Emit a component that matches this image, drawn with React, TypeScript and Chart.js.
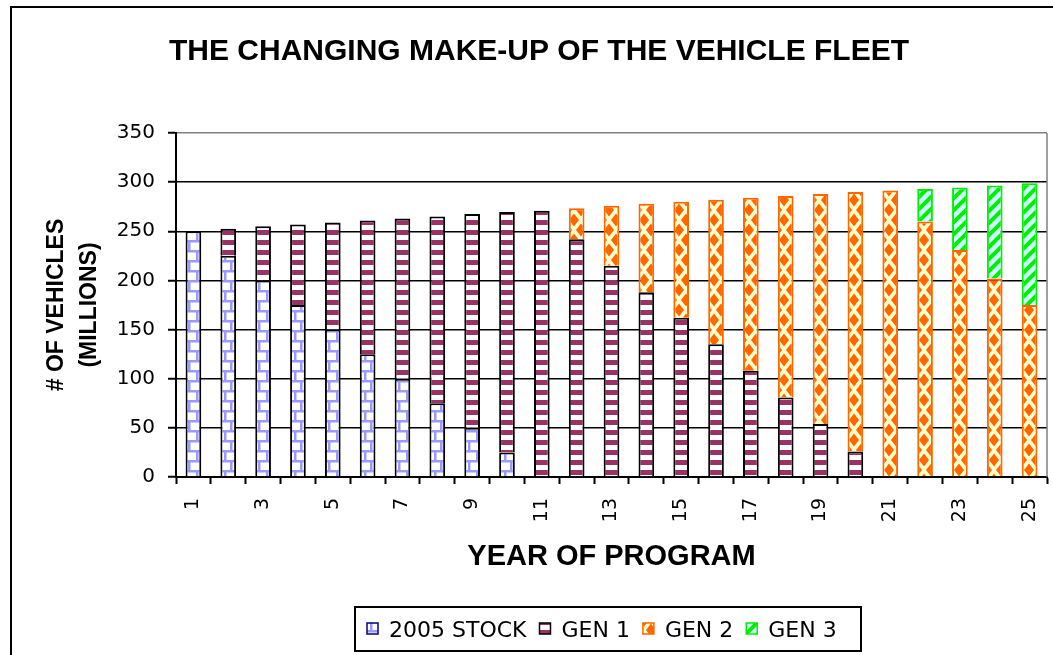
import React, { useEffect, useRef } from 'react';
import { Chart, registerables } from 'chart.js';

Chart.register(...registerables);

// ---------- DATA ----------
const YEARS = ['1','2','3','4','5','6','7','8','9','10','11','12','13','14','15','16','17','18','19','20','21','22','23','24','25'];
const STOCK_2005 = [250, 225, 200, 175, 150, 125, 100, 75, 50, 25, null, null, null, null, null, null, null, null, null, null, null, null, null, null, null];
const GEN_1 = [null, 27.5, 55, 82, 109, 136, 163, 190, 217.5, 244.5, 271, 242, 215, 188, 162, 135, 108, 81, 54, 26, null, null, null, null, null];
const GEN_2 = [null, null, null, null, null, null, null, null, null, null, null, 31.5, 61, 90, 118, 147, 176, 205, 234, 264, 291.5, 260, 231, 202, 175];
const GEN_3 = [null, null, null, null, null, null, null, null, null, null, null, null, null, null, null, null, null, null, null, null, null, 33, 63.5, 94.5, 124];
const SERIES_NAMES = ['2005 STOCK', 'GEN 1', 'GEN 2', 'GEN 3'];
const Y_MIN = 0;
const Y_MAX = 350;
const Y_STEP = 50;
const TITLE = 'THE CHANGING MAKE-UP OF THE VEHICLE FLEET';
const X_TITLE = 'YEAR OF PROGRAM';
const Y_TITLE = ['# OF VEHICLES', '(MILLIONS)'];

// ---------- PATTERNS ----------
function makeTile(w: number, h: number, draw: (c: CanvasRenderingContext2D) => void): CanvasPattern {
  const cv = document.createElement('canvas');
  cv.width = w;
  cv.height = h;
  const c = cv.getContext('2d')!;
  draw(c);
  return document.createElement('canvas').getContext('2d')!.createPattern(cv, 'repeat')!;
}

function stockPattern() {
  return makeTile(14, 20, (c) => {
    c.fillStyle = '#ffffff';
    c.fillRect(0, 0, 14, 20);
    c.fillStyle = '#9999ff';
    c.fillRect(0, 0, 14, 2.5);
    c.fillRect(0, 10, 14, 2.5);
    c.fillRect(6, 0, 2.5, 10);
    c.fillRect(0, 10, 2.5, 10);
  });
}
function gen1Pattern() {
  return makeTile(8, 10, (c) => {
    c.fillStyle = '#ffffff';
    c.fillRect(0, 0, 8, 10);
    c.fillStyle = '#993366';
    c.fillRect(0, 0, 8, 5);
  });
}
function gen2Pattern() {
  return makeTile(14, 20, (c) => {
    c.fillStyle = '#ffffcc';
    c.fillRect(0, 0, 14, 20);
    c.fillStyle = '#ff6600';
    const dia = (cx: number, cy: number) => {
      c.beginPath();
      c.moveTo(cx, cy - 6.5);
      c.lineTo(cx + 5, cy);
      c.lineTo(cx, cy + 6.5);
      c.lineTo(cx - 5, cy);
      c.closePath();
      c.fill();
    };
    dia(7, 10);
    dia(0, 0); dia(14, 0); dia(0, 20); dia(14, 20);
  });
}
function gen3Pattern() {
  return makeTile(12, 12, (c) => {
    c.fillStyle = '#ccffff';
    c.fillRect(0, 0, 12, 12);
    c.strokeStyle = '#00ee00';
    c.lineWidth = 4;
    c.beginPath();
    c.moveTo(-6, 6); c.lineTo(6, -6);
    c.moveTo(0, 12); c.lineTo(12, 0);
    c.moveTo(6, 18); c.lineTo(18, 6);
    c.stroke();
  });
}

const decorPlugin = {
  id: 'decor',
  afterDraw(chart: any) {
    const ctx: CanvasRenderingContext2D = chart.ctx;
    const a = chart.chartArea;
    ctx.save();
    ctx.strokeStyle = '#808080';
    ctx.lineWidth = 1.5;
    ctx.beginPath();
    ctx.moveTo(a.right, a.top);
    ctx.lineTo(a.right, a.bottom);
    ctx.stroke();
    ctx.strokeStyle = '#000';
    ctx.lineWidth = 2;
    ctx.beginPath();
    ctx.moveTo(11, 660);
    ctx.lineTo(11, 7);
    ctx.lineTo(1060, 7);
    ctx.stroke();
    ctx.fillStyle = '#000';
    ctx.textAlign = 'center';
    ctx.textBaseline = 'alphabetic';
    ctx.font = 'bold 30px "Liberation Sans", Arial, sans-serif';
    ctx.fillText(TITLE, 539, 60);
    ctx.font = 'bold 29px "Liberation Sans", Arial, sans-serif';
    ctx.fillText(X_TITLE, (a.left + a.right) / 2, 565);
    const cy = (a.top + a.bottom) / 2;
    ctx.font = 'bold 23px "Liberation Sans", Arial, sans-serif';
    const xs = [63, 96];
    Y_TITLE.forEach((t, i) => {
      ctx.save();
      ctx.translate(xs[i], cy);
      ctx.rotate(-Math.PI / 2);
      ctx.fillText(t, 0, 0);
      ctx.restore();
    });
    ctx.strokeStyle = '#000';
    ctx.lineWidth = 2;
    ctx.strokeRect(355, 607, 506, 44);
    ctx.font = '22px "DejaVu Sans", sans-serif';
    ctx.textAlign = 'left';
    let x = 367;
    chart.data.datasets.forEach((ds: any) => {
      ctx.fillStyle = ds.backgroundColor;
      ctx.fillRect(x, 623, 11, 11);
      ctx.strokeStyle = ds.legendBorder;
      ctx.lineWidth = 1.5;
      ctx.strokeRect(x, 623, 11, 11);
      ctx.fillStyle = '#000';
      ctx.fillText(ds.label, x + 22, 637);
      x = x + 22 + ctx.measureText(ds.label).width + 13;
    });
    ctx.restore();
  },
};

export default function App() {
  const ref = useRef<HTMLCanvasElement>(null);
  useEffect(() => {
    if (!ref.current) return;
    const common = { barPercentage: 0.45, categoryPercentage: 1, borderSkipped: 'start' as const };
    const chart = new Chart(ref.current, {
      type: 'bar',
      data: {
        labels: YEARS,
        datasets: [
          { label: SERIES_NAMES[0], data: STOCK_2005, backgroundColor: stockPattern(), borderColor: '#000', borderWidth: 2, legendBorder: '#000080', ...common } as any,
          { label: SERIES_NAMES[1], data: GEN_1, backgroundColor: gen1Pattern(), borderColor: '#000', borderWidth: 2, legendBorder: '#000', ...common } as any,
          { label: SERIES_NAMES[2], data: GEN_2, backgroundColor: gen2Pattern(), borderColor: '#ff6600', borderWidth: 2, legendBorder: '#ff6600', ...common } as any,
          { label: SERIES_NAMES[3], data: GEN_3, backgroundColor: gen3Pattern(), borderColor: '#00ee00', borderWidth: 2, legendBorder: '#00ee00', ...common } as any,
        ],
      },
      options: {
        responsive: false,
        animation: false,
        events: [],
        layout: { padding: { left: 0, right: 6, top: 133, bottom: 0 } },
        plugins: {
          legend: { display: false },
          title: { display: false },
          tooltip: { enabled: false },
        },
        scales: {
          x: {
            stacked: true,
            offset: true,
            grid: {
              display: true,
              offset: true,
              drawOnChartArea: false,
              drawTicks: true,
              tickLength: 7,
              tickWidth: 2,
              tickColor: '#000',
            },
            border: { display: true, color: '#000', width: 2 },
            ticks: {
              autoSkip: false,
              maxRotation: 90,
              minRotation: 90,
              padding: 14,
              color: '#000',
              font: { family: '"DejaVu Sans", sans-serif', size: 19 },
              callback: function (this: any, v: any, i: number) {
                return i % 2 === 0 ? this.getLabelForValue(v) : '';
              },
            },
            afterFit: (s: any) => {
              s.height = 655 - 477;
              s.paddingLeft = 0;
              s.paddingRight = 0;
            },
          },
          y: {
            stacked: true,
            min: Y_MIN,
            max: Y_MAX,
            grid: {
              color: (c: any) => (c.tick && c.tick.value === Y_MAX ? '#808080' : '#000'),
              lineWidth: 1.5,
              drawTicks: true,
              tickLength: 8,
              tickColor: '#000',
              tickWidth: 2,
            },
            border: { display: true, color: '#000', width: 2 },
            ticks: {
              stepSize: Y_STEP,
              padding: 13,
              color: '#000',
              font: { family: '"DejaVu Sans", sans-serif', size: 20 },
            },
            afterFit: (s: any) => {
              s.width = 176;
              s.paddingTop = 0;
              s.paddingBottom = 0;
            },
          },
        },
      } as any,
      plugins: [decorPlugin],
    });
    return () => chart.destroy();
  }, []);
  return (
    <div style={{ position: 'absolute', left: 0, top: 0, width: 1053, height: 655, background: '#fff' }}>
      <canvas ref={ref} width={1053} height={655} style={{ display: 'block' }} />
    </div>
  );
}
